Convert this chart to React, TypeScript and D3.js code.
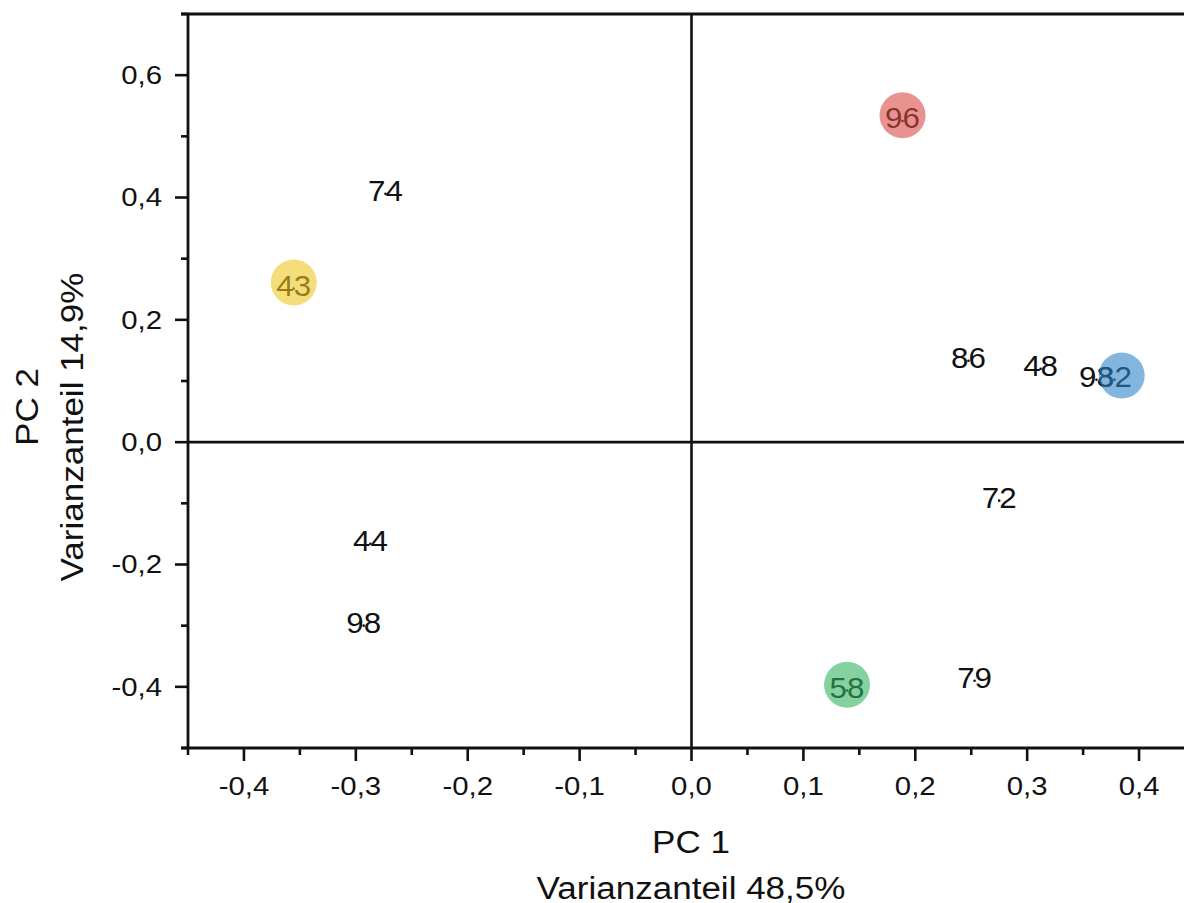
import React from "react";
import * as d3 from "d3";

const labels = ["96", "43", "74", "86", "48", "93", "82", "72", "44", "98", "58", "79"];
const pc1 = [0.1886, -0.3555, -0.2735, 0.2475, 0.312, 0.362, 0.378, 0.275, -0.287, -0.293, 0.139, 0.253];
const pc2 = [0.525, 0.251, 0.406, 0.133, 0.12, 0.102, 0.102, -0.0956, -0.166, -0.3, -0.406, -0.39];

const hlNames = ["96", "43", "82", "58"];
const hlPc1 = [0.1886, -0.3555, 0.3845, 0.139];
const hlPc2 = [0.5345, 0.261, 0.109, -0.3965];
const hlColors = ["#da4b46", "#eec621", "#2f85c8", "#35b261"];

const xMajor = [-0.4, -0.3, -0.2, -0.1, 0.0, 0.1, 0.2, 0.3, 0.4];
const xMinor = [-0.45, -0.35, -0.25, -0.15, -0.05, 0.05, 0.15, 0.25, 0.35, 0.45];
const yMajor = [-0.4, -0.2, 0.0, 0.2, 0.4, 0.6];
const yMinor = [-0.5, -0.3, -0.1, 0.1, 0.3, 0.5, 0.7];

const xTitle = ["PC 1", "Varianzanteil 48,5%"];
const yTitle = ["PC 2", "Varianzanteil 14,9%"];

const W = 1184;
const H = 903;
const FONT = "'Liberation Sans', Arial, sans-serif";

export default function App() {
  const x = d3.scaleLinear().domain([-0.45, 0.45]).range([188, 1195]);
  const y = d3.scaleLinear().domain([-0.5, 0.7]).range([748, 14]);
  const fmt = (v: number) => d3.format(".1f")(v).replace(".", ",").replace("−", "-");
  const axX = 188;
  const axY = 748;
  const ink = "#111";
  const sx = 1.13;

  return (
    <svg
      width={W}
      height={H}
      style={{ position: "absolute", left: 0, top: 0, background: "#fff" }}
      fontFamily={FONT}
    >
      <rect x={0} y={0} width={W} height={H} fill="#fff" />
      {/* zero lines */}
      <line x1={x(0)} x2={x(0)} y1={y(0.7)} y2={axY} stroke={ink} strokeWidth={2.6} />
      <line x1={axX} x2={W} y1={y(0)} y2={y(0)} stroke={ink} strokeWidth={2.6} />
      {/* top border */}
      <line x1={axX - 7} x2={W} y1={y(0.7)} y2={y(0.7)} stroke={ink} strokeWidth={2.8} />
      {/* left axis */}
      <line x1={axX} x2={axX} y1={y(0.7)} y2={axY} stroke={ink} strokeWidth={2.8} />
      {yMajor.map((v) => (
        <g key={"ym" + v}>
          <line x1={axX - 13} x2={axX} y1={y(v)} y2={y(v)} stroke={ink} strokeWidth={2.6} />
          <text
            transform={`translate(${axX - 26},${y(v)}) scale(${sx},1)`}
            textAnchor="end"
            dominantBaseline="central"
            fontSize={26}
            fill={ink}
          >
            {fmt(v)}
          </text>
        </g>
      ))}
      {yMinor.map((v) => (
        <line key={"yn" + v} x1={axX - 7} x2={axX} y1={y(v)} y2={y(v)} stroke={ink} strokeWidth={2.6} />
      ))}
      {/* bottom axis */}
      <line x1={axX - 7} x2={W} y1={axY} y2={axY} stroke={ink} strokeWidth={2.8} />
      {xMajor.map((v) => (
        <g key={"xm" + v}>
          <line x1={x(v)} x2={x(v)} y1={axY} y2={axY + 13} stroke={ink} strokeWidth={2.6} />
          <text
            transform={`translate(${x(v)},${axY + 47}) scale(${sx},1)`}
            textAnchor="middle"
            fontSize={26}
            fill={ink}
          >
            {fmt(v)}
          </text>
        </g>
      ))}
      {xMinor.map((v) => (
        <line key={"xn" + v} x1={x(v)} x2={x(v)} y1={axY} y2={axY + 7} stroke={ink} strokeWidth={2.6} />
      ))}
      {/* axis titles */}
      <text transform={`translate(691,853) scale(${sx},1)`} textAnchor="middle" fontSize={31} fill={ink}>
        {xTitle[0]}
      </text>
      <text transform={`translate(691,899) scale(${sx},1)`} textAnchor="middle" fontSize={31} fill={ink}>
        {xTitle[1]}
      </text>
      <text transform={`translate(38,407) rotate(-90) scale(${sx},1)`} textAnchor="middle" fontSize={31} fill={ink}>
        {yTitle[0]}
      </text>
      <text transform={`translate(83,427) rotate(-90) scale(${sx},1)`} textAnchor="middle" fontSize={31} fill={ink}>
        {yTitle[1]}
      </text>
      {/* points and labels */}
      {labels.map((l, i) => (
        <g key={"p" + i}>
          <circle cx={x(pc1[i])} cy={y(pc2[i])} r={1.3} fill={ink} />
          <text
            transform={`translate(${x(pc1[i])},${y(pc2[i]) - 3}) scale(1.08,1)`}
            textAnchor="middle"
            dominantBaseline="central"
            fontSize={29}
            fill={ink}
          >
            {l}
          </text>
        </g>
      ))}
      {/* highlight circles */}
      {hlNames.map((n, i) => (
        <circle key={"h" + n} cx={x(hlPc1[i])} cy={y(hlPc2[i])} r={23} fill={hlColors[i]} fillOpacity={0.6} />
      ))}
    </svg>
  );
}
